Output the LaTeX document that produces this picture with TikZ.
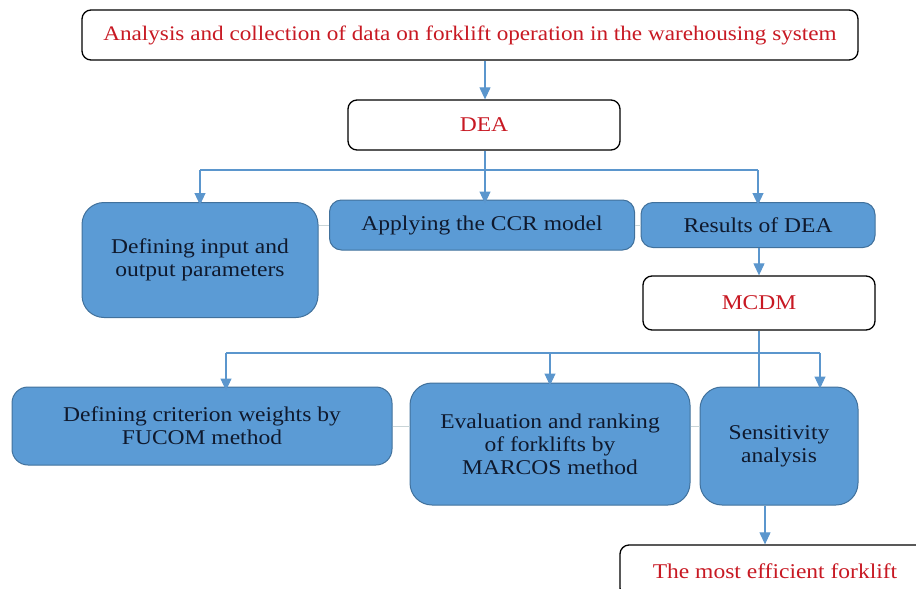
\documentclass[tikz,border=0pt]{standalone}
\usepackage{fontspec}
\setmainfont{Liberation Serif}[FakeStretch=1.12]
\usepackage{tikz}
\usetikzlibrary{arrows.meta,shapes,positioning}
\usepackage{xcolor}
\definecolor{fkblue}{RGB}{91,155,213}
\definecolor{fkborder}{RGB}{65,113,156}
\definecolor{fkarrow}{RGB}{91,150,205}
\definecolor{fkred}{RGB}{200,25,35}
\definecolor{fkgrey}{RGB}{200,212,215}
\definecolor{fktext}{RGB}{15,25,45}
\tikzstyle{arrow} = [line width=1.1pt,-{Triangle[width=11pt,length=12pt]},color=fkarrow]
\tikzstyle{link} = [line width=1.1pt,color=fkarrow]
\tikzstyle{faint} = [line width=1pt,color=fkgrey]
\tikzstyle{whitebox} = [rectangle, rounded corners=9pt, text centered, draw=black, fill=white, line width=1.3pt, text=fkred, font=\fontsize{21}{23}\selectfont]
\tikzstyle{stepbox} = [rectangle, rounded corners=12pt, text centered, draw=fkborder, fill=fkblue, line width=1pt, text=fktext, align=center, font=\fontsize{21}{23}\selectfont]

\begin{document}
\begin{tikzpicture}[x=1pt,y=-1pt]
\useasboundingbox (0,0) rectangle (916,589);
\node[whitebox, minimum width=776pt, minimum height=50pt, font=\fontsize{20.7}{22}\selectfont] (top) at (470,35) {Analysis and collection of data on forklift operation in the warehousing system};
\node[whitebox, minimum width=272pt, minimum height=50pt] (dea) at (484,125) {DEA};

\node[stepbox, rounded corners=22pt, minimum width=236pt, minimum height=115pt] (inout) at (200,260) {Defining input and\\output parameters};
\node[stepbox, minimum width=305pt, minimum height=50pt] (ccr) at (482,225) {Applying the CCR model};
\node[stepbox, minimum width=234pt, minimum height=45pt] (res) at (758,225) {Results of DEA};
\node[whitebox, minimum width=232pt, minimum height=54pt] (mcdm) at (759,303) {MCDM};

\node[stepbox, rounded corners=16pt, minimum width=380pt, minimum height=78pt] (fucom) at (202,426) {Defining criterion weights by\\FUCOM method};
\node[stepbox, rounded corners=22pt, minimum width=280pt, minimum height=122pt] (marcos) at (550,444) {Evaluation and ranking\\of forklifts by\\MARCOS method};
\node[stepbox, rounded corners=22pt, minimum width=158pt, minimum height=118pt] (sens) at (779,446) {Sensitivity\\analysis};
\node[whitebox, minimum width=310pt, minimum height=52pt] (best) at (775,571) {The most efficient forklift};

% DEA branch
\coordinate (split1) at (485,170);
\draw[arrow] (split1 |- top.south) -- (split1 |- dea.north);
\draw[link] (split1 |- dea.south) -- (split1);
\draw[link] (inout.north |- split1) -- (res.north |- split1);
\draw[arrow] (inout.north |- split1) -- ([yshift=-3pt]inout.north);
\draw[arrow] (split1) -- ([yshift=-4pt]split1 |- ccr.north);
\draw[arrow] (res.north |- split1) -- ([yshift=-3pt]res.north);
\draw[faint] (inout.east |- ccr.west) -- (ccr.west);
\draw[faint] (ccr.east) -- (res.west);
\draw[arrow] (mcdm.north |- res.south) -- (mcdm.north);

% MCDM branch
\coordinate (split2) at (226,353);
\coordinate (split3) at (820,353);
\draw[link] (mcdm.south) -- (mcdm.south |- sens.north);
\draw[link] (split2) -- (split3);
\draw[arrow] (split2) -- ([yshift=-4pt]split2 |- fucom.north);
\draw[arrow] (marcos.north |- split2) -- ([yshift=-3pt]marcos.north);
\draw[arrow] (split3) -- ([yshift=-2pt]split3 |- sens.north);
\draw[faint] (fucom.east) -- (fucom.east -| marcos.west);
\draw[faint] (marcos.east |- fucom.east) -- (sens.west |- fucom.east);
\draw[arrow] ([xshift=-14pt]sens.south) -- ([xshift=-14pt]sens.south |- best.north);
\end{tikzpicture}
\end{document}
